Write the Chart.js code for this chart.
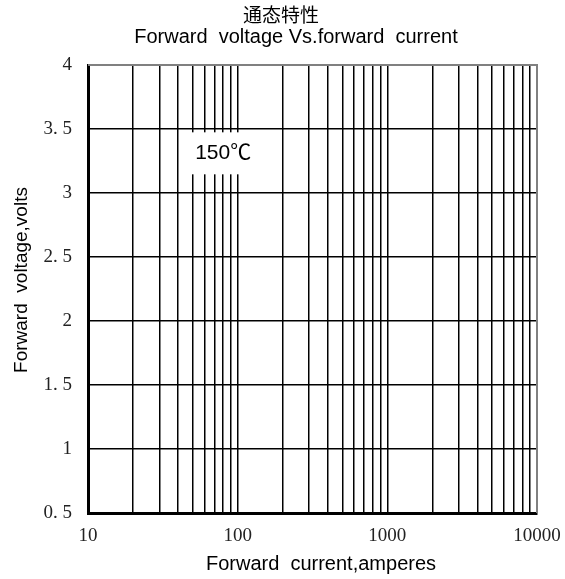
<!DOCTYPE html>
<html>
<head>
<meta charset="utf-8">
<script src="https://cdn.jsdelivr.net/npm/chart.js@4.4.1/dist/chart.umd.min.js"></script>
<style>
  html, body { margin: 0; padding: 0; background: #fff; }
  canvas { display: block; }
</style>
</head>
<body>
<canvas id="ivChart" width="565" height="579"></canvas>
<script>
// chart texts
const titleCn = "通态特性";
const titleEn = "Forward  voltage Vs.forward  current";
const xTitle = "Forward  current,amperes";
const yTitle = "Forward  voltage,volts";
const tempLabel = "150℃";
const tempLabelAt = [80, 3.31]; // current, voltage

// axes
const currentMin = 10;
const currentMax = 10000;
const currentTicks = [10, 20, 30, 40, 50, 60, 70, 80, 90,
  100, 200, 300, 400, 500, 600, 700, 800, 900,
  1000, 2000, 3000, 4000, 5000, 6000, 7000, 8000, 9000, 10000];
const currentLabels = [10, 100, 1000, 10000];
const voltageMin = 0.5;
const voltageMax = 4;
const voltageStep = 0.5;

// no curve plotted in the reference
const curveCurrent = [];
const curveVoltage = [];

const serif = "'Liberation Serif', 'DejaVu Serif', serif";
const sans = "'Liberation Sans', Arial, 'Noto Sans CJK SC', sans-serif";

// titles, axis names, frame and the temperature note
const textPlugin = {
  id: "texts",
  afterDraw(chart) {
    const ctx = chart.ctx;
    const a = chart.chartArea;
    ctx.save();

    // top / right frame in grey
    ctx.strokeStyle = "#808080";
    ctx.lineWidth = 2;
    ctx.beginPath();
    ctx.moveTo(a.left, a.top);
    ctx.lineTo(a.right, a.top);
    ctx.lineTo(a.right, a.bottom);
    ctx.stroke();

    ctx.fillStyle = "#000";
    ctx.textAlign = "center";

    ctx.font = "19px 'Noto Sans CJK SC', sans-serif";
    ctx.textBaseline = "middle";
    ctx.fillText(titleCn, 281, 15);

    ctx.font = "20px " + sans;
    ctx.textBaseline = "alphabetic";
    ctx.fillText(titleEn, 296, 43);

    ctx.font = "20px " + sans;
    ctx.fillText(xTitle, 321, 570);

    ctx.save();
    ctx.translate(27, 280);
    ctx.rotate(-Math.PI / 2);
    ctx.font = "19px " + sans;
    ctx.fillText(yTitle, 0, 0);
    ctx.restore();

    // note with white background
    const px = chart.scales.x.getPixelForValue(tempLabelAt[0]);
    const py = chart.scales.y.getPixelForValue(tempLabelAt[1]);
    ctx.fillStyle = "#fff";
    ctx.fillRect(px - 37, py - 21, 72, 42);
    ctx.fillStyle = "#000";
    ctx.font = "21px " + sans;
    ctx.textBaseline = "middle";
    ctx.fillText(tempLabel, px, py);

    ctx.restore();
  }
};

const ctx = document.getElementById("ivChart").getContext("2d");
const ivChart = new Chart(ctx, {
  type: "scatter",
  data: {
    datasets: [{
      data: curveCurrent.map((c, i) => ({ x: c, y: curveVoltage[i] })),
      borderColor: "#000",
      showLine: true,
      pointRadius: 0
    }]
  },
  options: {
    responsive: false,
    animation: false,
    layout: { padding: { top: 65, right: 28, bottom: 0, left: 0 } },
    plugins: {
      legend: { display: false },
      tooltip: { enabled: false }
    },
    scales: {
      x: {
        type: "logarithmic",
        min: currentMin,
        max: currentMax,
        afterBuildTicks: (scale) => {
          scale.ticks = currentTicks.map(v => ({ value: v }));
        },
        afterFit: (scale) => {
          scale.height = 66;
          scale.paddingLeft = 0;
          scale.paddingRight = 0;
        },
        grid: { color: "#000", lineWidth: 1.5, drawTicks: false },
        border: { color: "#000", width: 3 },
        ticks: {
          autoSkip: false,
          maxRotation: 0,
          padding: 12,
          color: "#222",
          font: { family: serif, size: 19 },
          callback: (v) => currentLabels.includes(v) ? String(v) : ""
        }
      },
      y: {
        min: voltageMin,
        max: voltageMax,
        afterFit: (scale) => {
          scale.width = 88;
          scale.paddingTop = 0;
          scale.paddingBottom = 0;
        },
        grid: { color: "#000", lineWidth: 1.5, drawTicks: false },
        border: { color: "#000", width: 3 },
        ticks: {
          stepSize: voltageStep,
          padding: 16,
          color: "#222",
          font: { family: serif, size: 19 },
          callback: (v) => String(v).replace(".", ". ")
        }
      }
    }
  },
  plugins: [textPlugin]
});
</script>
</body>
</html>
